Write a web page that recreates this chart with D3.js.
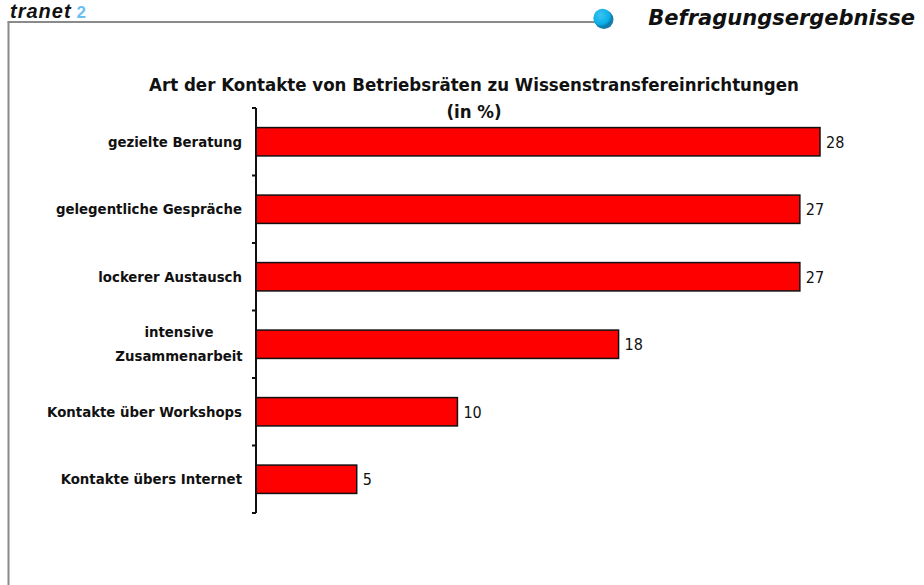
<!DOCTYPE html>
<html><head><meta charset="utf-8">
<script src="https://cdn.jsdelivr.net/npm/d3@7"></script>
<style>body{margin:0;background:#fff;} svg{display:block;font-family:"DejaVu Sans Condensed","DejaVu Sans",sans-serif;}</style>
</head><body>
<svg id="c" width="924" height="585"></svg>
<script>
const categories = ["gezielte Beratung","gelegentliche Gespräche","lockerer Austausch","intensive\nZusammenarbeit","Kontakte über Workshops","Kontakte übers Internet"];
const values = [28,27,27,18,10,5];
const title = ["Art der Kontakte von Betriebsräten zu Wissenstransfereinrichtungen","(in %)"];

const svg = d3.select("#c");
// frame
svg.append("line").attr("x1",8.5).attr("y1",22).attr("x2",8.5).attr("y2",585).attr("stroke","#8a8a8a").attr("stroke-width",2);
svg.append("line").attr("x1",7.5).attr("y1",22).attr("x2",598).attr("y2",22).attr("stroke","#8a8a8a").attr("stroke-width",2);
const defs = svg.append("defs");
const g = defs.append("radialGradient").attr("id","bl").attr("cx","40%").attr("cy","35%").attr("r","65%");
g.append("stop").attr("offset","0%").attr("stop-color","#3cc4f2");
g.append("stop").attr("offset","75%").attr("stop-color","#0aaee6");
g.append("stop").attr("offset","100%").attr("stop-color","#0a78a8");
svg.append("circle").attr("cx",604).attr("cy",19.5).attr("r",9.5).attr("fill","#1a7fa8");
svg.append("circle").attr("cx",602.5).attr("cy",18).attr("r",9.2).attr("fill","url(#bl)");
// logo
const logo = svg.append("text").attr("x",10).attr("y",18).attr("font-family","'Liberation Sans',Arial,sans-serif")
  .attr("font-size",20).attr("font-weight","900").attr("font-style","italic").attr("letter-spacing",1);
logo.append("tspan").attr("fill","#111").text("tranet");
logo.append("tspan").attr("fill","#6bbff0").attr("dx",5).attr("font-style","normal").attr("font-size",17).text("2");
svg.append("text").attr("x",915).attr("y",25).attr("text-anchor","end").attr("font-family","'DejaVu Sans',sans-serif")
  .attr("font-size",21).attr("font-weight","bold").attr("font-style","italic").attr("fill","#111").text("Befragungsergebnisse");

// title
svg.append("text").attr("x",474).attr("y",91).attr("text-anchor","middle").attr("font-size",18.5).attr("font-weight","bold").attr("fill","#111").text(title[0]);
svg.append("text").attr("x",474).attr("y",118).attr("text-anchor","middle").attr("font-size",18.5).attr("font-weight","bold").attr("fill","#111").text(title[1]);

const x = d3.scaleLinear().domain([0,28]).range([256,820]);
const y = d3.scaleBand().domain(categories).range([108,513]).paddingInner(0.58).paddingOuter(0.29);

svg.selectAll("rect.bar").data(values).enter().append("rect")
  .attr("x",x(0)).attr("y",(d,i)=>y(categories[i]))
  .attr("width",d=>x(d)-x(0)).attr("height",y.bandwidth())
  .attr("fill","#ff0000").attr("stroke","#111").attr("stroke-width",1.5);

svg.selectAll("text.val").data(values).enter().append("text")
  .attr("x",d=>x(d)+6).attr("y",(d,i)=>y(categories[i])+y.bandwidth()/2+6)
  .attr("font-size",16).attr("fill","#111").text(d=>d);

// axis
svg.append("line").attr("x1",x(0)).attr("x2",x(0)).attr("y1",108).attr("y2",513).attr("stroke","#111").attr("stroke-width",2);
const edges = d3.range(categories.length+1).map(i=>108 + i*(513-108)/categories.length);
svg.selectAll("line.tk").data(edges).enter().append("line")
  .attr("x1",x(0)-4).attr("x2",x(0)).attr("y1",d=>d).attr("y2",d=>d).attr("stroke","#111").attr("stroke-width",2);

// category labels
categories.forEach((c,i)=>{
  const lines = c.split("\n");
  const cy = y(c)+y.bandwidth()/2;
  const t = svg.append("text").attr("text-anchor", lines.length>1 ? "middle":"end")
    .attr("font-size",14.8).attr("font-weight","bold").attr("fill","#111");
  if(lines.length>1){
    lines.forEach((l,j)=>t.append("tspan").attr("x",179).attr("y",cy - 7 + j*24).text(l));
  } else {
    t.attr("x",242).attr("y",cy+5).text(c);
  }
});
</script>
</body></html>
